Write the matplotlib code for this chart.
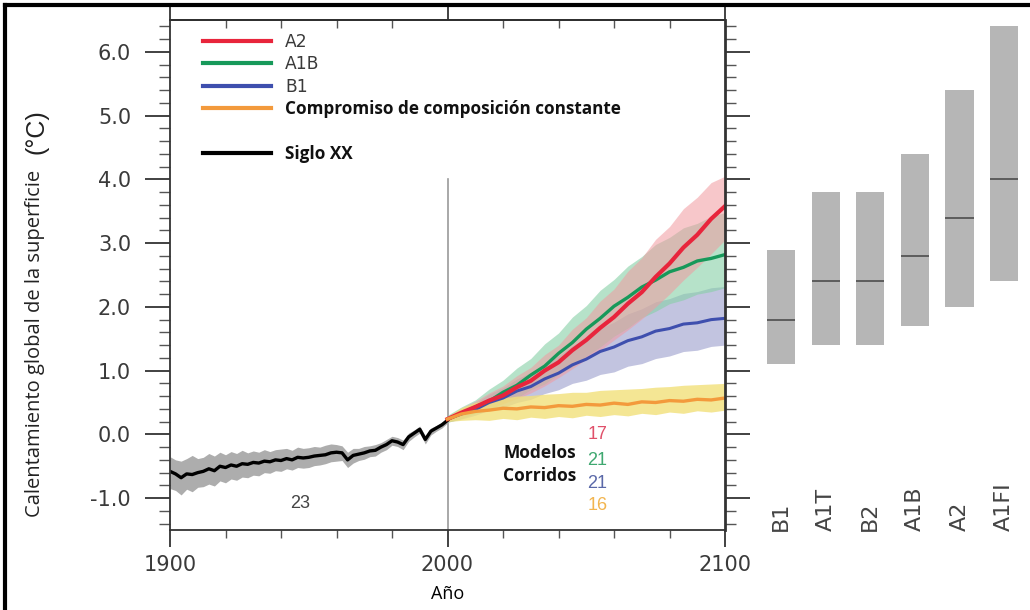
import matplotlib
matplotlib.use("Agg")
import matplotlib.pyplot as plt
from matplotlib.lines import Line2D
from matplotlib.ticker import MultipleLocator

# --- data ---
hist_years = list(range(1900, 2001, 2))
hist_mean = [-0.58, -0.62, -0.68, -0.62, -0.63, -0.60, -0.58, -0.54, -0.57, -0.50,
             -0.52, -0.48, -0.50, -0.46, -0.47, -0.44, -0.45, -0.42, -0.43, -0.40,
             -0.41, -0.38, -0.40, -0.36, -0.37, -0.36, -0.34, -0.33, -0.32, -0.29,
             -0.28, -0.29, -0.40, -0.33, -0.31, -0.29, -0.26, -0.25, -0.20, -0.16,
             -0.10, -0.12, -0.16, -0.04, 0.02, 0.08, -0.08, 0.05, 0.10, 0.15, 0.22]
hist_hi = [-0.35, -0.40, -0.42, -0.38, -0.33, -0.38, -0.36, -0.30, -0.34, -0.28,
           -0.32, -0.27, -0.30, -0.25, -0.29, -0.26, -0.28, -0.24, -0.27, -0.24,
           -0.23, -0.22, -0.25, -0.20, -0.22, -0.21, -0.19, -0.20, -0.17, -0.15,
           -0.16, -0.18, -0.28, -0.22, -0.22, -0.19, -0.18, -0.16, -0.13, -0.08,
           -0.03, -0.05, -0.09, 0.02, 0.07, 0.13, -0.02, 0.10, 0.14, 0.19, 0.26]
hist_lo = [-0.85, -0.88, -0.95, -0.86, -0.90, -0.83, -0.82, -0.78, -0.81, -0.73,
           -0.76, -0.70, -0.72, -0.67, -0.68, -0.64, -0.65, -0.60, -0.61, -0.57,
           -0.58, -0.54, -0.56, -0.52, -0.53, -0.52, -0.49, -0.48, -0.46, -0.43,
           -0.42, -0.41, -0.52, -0.45, -0.41, -0.39, -0.35, -0.34, -0.28, -0.24,
           -0.17, -0.19, -0.24, -0.11, -0.04, 0.02, -0.15, -0.01, 0.05, 0.10, 0.18]

proj_years = list(range(2000, 2101, 5))
a2_mean = [0.24, 0.34, 0.43, 0.53, 0.61, 0.74, 0.84, 1.00, 1.13, 1.32, 1.48,
           1.67, 1.84, 2.05, 2.23, 2.47, 2.68, 2.93, 3.13, 3.38, 3.58]
a2_hi = [0.28, 0.41, 0.52, 0.65, 0.76, 0.92, 1.05, 1.25, 1.40, 1.65, 1.83,
         2.09, 2.28, 2.56, 2.77, 3.06, 3.26, 3.54, 3.72, 3.95, 4.05]
a2_lo = [0.20, 0.26, 0.35, 0.41, 0.48, 0.56, 0.65, 0.76, 0.89, 1.03, 1.18,
         1.32, 1.48, 1.64, 1.81, 2.00, 2.20, 2.42, 2.62, 2.83, 3.05]
a1b_mean = [0.24, 0.33, 0.43, 0.52, 0.66, 0.77, 0.93, 1.07, 1.27, 1.44, 1.65,
            1.82, 2.01, 2.15, 2.31, 2.42, 2.55, 2.62, 2.72, 2.76, 2.82]
a1b_hi = [0.30, 0.43, 0.54, 0.71, 0.85, 1.04, 1.19, 1.42, 1.59, 1.84, 2.02,
          2.26, 2.43, 2.64, 2.79, 2.98, 3.09, 3.24, 3.31, 3.42, 3.48]
a1b_lo = [0.19, 0.25, 0.33, 0.39, 0.49, 0.57, 0.70, 0.79, 0.94, 1.06, 1.23,
          1.37, 1.54, 1.67, 1.83, 1.93, 2.05, 2.11, 2.20, 2.24, 2.30]
b1_mean = [0.24, 0.32, 0.39, 0.50, 0.57, 0.68, 0.75, 0.87, 0.96, 1.09, 1.18,
           1.30, 1.37, 1.47, 1.53, 1.62, 1.66, 1.73, 1.75, 1.80, 1.82]
b1_hi = [0.29, 0.39, 0.49, 0.63, 0.73, 0.87, 0.97, 1.11, 1.23, 1.39, 1.51,
         1.66, 1.76, 1.89, 1.97, 2.08, 2.13, 2.21, 2.24, 2.30, 2.32]
b1_lo = [0.19, 0.24, 0.30, 0.38, 0.42, 0.50, 0.55, 0.64, 0.70, 0.80, 0.85,
         0.94, 0.98, 1.07, 1.11, 1.19, 1.23, 1.30, 1.32, 1.38, 1.40]
const_mean = [0.24, 0.32, 0.36, 0.38, 0.41, 0.40, 0.43, 0.42, 0.45, 0.44, 0.47,
              0.46, 0.49, 0.47, 0.51, 0.50, 0.53, 0.52, 0.55, 0.54, 0.57]
const_hi = [0.28, 0.42, 0.50, 0.55, 0.57, 0.60, 0.61, 0.63, 0.64, 0.66, 0.66,
            0.69, 0.70, 0.71, 0.72, 0.74, 0.75, 0.77, 0.78, 0.79, 0.80]
const_lo = [0.20, 0.22, 0.23, 0.22, 0.25, 0.23, 0.27, 0.25, 0.28, 0.26, 0.30,
            0.28, 0.31, 0.29, 0.33, 0.31, 0.35, 0.33, 0.37, 0.35, 0.38]

scenarios = ["B1", "A1T", "B2", "A1B", "A2", "A1FI"]
best_est = [1.8, 2.4, 2.4, 2.8, 3.4, 4.0]
range_lo = [1.1, 1.4, 1.4, 1.7, 2.0, 2.4]
range_hi = [2.9, 3.8, 3.8, 4.4, 5.4, 6.4]

model_counts = ["17", "21", "21", "16"]
count_colors = ["#e0506a", "#3fa870", "#5a68a8", "#f2b54f"]

RED, GREEN, BLUE, ORANGE = "#e8253c", "#17995a", "#3e4fae", "#f39a3c"
TICK = "#3a3a3a"

fig = plt.figure(figsize=(10.3, 6.1), dpi=100)
ax = fig.add_axes([170 / 1030, 80 / 610, 555 / 1030, 510 / 610])
ax2 = fig.add_axes([725 / 1030, 80 / 610, 305 / 1030, 510 / 610])

# uncertainty bands
ax.fill_between(hist_years, hist_lo, hist_hi, color="#a4a4a4", lw=0, alpha=0.9)
ax.fill_between(proj_years, b1_lo, b1_hi, color="#aeb0d6", lw=0, alpha=0.75)
ax.fill_between(proj_years, a1b_lo, a1b_hi, color="#86d0a6", lw=0, alpha=0.6)
ax.fill_between(proj_years, a2_lo, a2_hi, color="#f29aa0", lw=0, alpha=0.55)
ax.fill_between(proj_years, const_lo, const_hi, color="#f2e07a", lw=0, alpha=0.8)

ax.plot(hist_years, hist_mean, color="black", lw=2.4)
ax.plot(proj_years, b1_mean, color=BLUE, lw=2.2)
ax.plot(proj_years, a1b_mean, color=GREEN, lw=2.4)
ax.plot(proj_years, a2_mean, color=RED, lw=3)
ax.plot(proj_years, const_mean, color=ORANGE, lw=2.4)

ax.axvline(2000, ymin=0, ymax=(4.0 + 1.5) / 8.0, color="#9a9a9a", lw=1.2, zorder=0)

ax.set_xlim(1900, 2100)
ax.set_ylim(-1.5, 6.5)
ax.set_xticks([1900, 2000, 2100])
ax.set_xticklabels(["1900", "2000", "2100"])
ax.xaxis.set_minor_locator(MultipleLocator(20))
ax.yaxis.set_minor_locator(MultipleLocator(0.2))
ax.set_yticks([-1, 0, 1, 2, 3, 4, 5, 6])
ax.set_yticklabels(["-1.0", "0.0", "1.0", "2.0", "3.0", "4.0", "5.0", "6.0"])

ax.tick_params(axis="y", which="major", direction="out", length=18, width=1.3,
               left=True, right=True, color="#333", labelsize=15,
               labelcolor=TICK, pad=10)
ax.tick_params(axis="y", which="minor", direction="out", length=8, width=1,
               left=True, right=True, color="#555")
ax.tick_params(axis="x", which="major", direction="out", length=12, width=1.3,
               color="#333", labelsize=15, labelcolor=TICK, pad=6)
ax.tick_params(axis="x", which="minor", direction="out", length=6, width=1,
               color="#555")

top = ax.secondary_xaxis("top")
top.set_xticks([1900, 2000, 2100])
top.xaxis.set_minor_locator(MultipleLocator(20))
top.tick_params(which="major", direction="out", length=10, width=1.3,
                labeltop=False, color="#333")
top.tick_params(which="minor", direction="in", length=6, width=1, color="#555")
top.spines["top"].set_linewidth(1.3)

for s in ax.spines.values():
    s.set_color("#333")
    s.set_linewidth(1.3)
ax.spines["right"].set_linewidth(2)

ax.set_xlabel("Año", family="Open Sans", fontsize=13, labelpad=7)

fig.text(35 / 1030, 1 - 343 / 610, "Calentamiento global de la superficie",
         rotation=90, ha="center", va="center", family="Open Sans",
         fontsize=14.5, color="#222")
fig.text(37 / 1030, 1 - 132 / 610, "(°C)", rotation=90, ha="center",
         va="center", family="Liberation Sans", fontsize=18, color="#222")

# legend
handles = [Line2D([], [], color=RED, lw=3),
           Line2D([], [], color=GREEN, lw=3),
           Line2D([], [], color=BLUE, lw=3),
           Line2D([], [], color=ORANGE, lw=3),
           Line2D([], [], color="none"),
           Line2D([], [], color="black", lw=3)]
labels = ["A2", "A1B", "B1", "Compromiso de composición constante", "", "Siglo XX"]
leg = ax.legend(handles, labels, loc="upper left",
                bbox_to_anchor=(33 / 555, 1 - 13 / 510), frameon=False,
                borderpad=0, borderaxespad=0, handlelength=4.0,
                handletextpad=0.8, labelspacing=0.26, fontsize=12.3)
for i, t in enumerate(leg.get_texts()):
    if i < 3:
        t.set_family("DejaVu Sans")
        t.set_color("#3a3a3a")
    else:
        t.set_family("Open Sans")
        t.set_fontweight("bold")
        t.set_color("#111")

ax.text(2046.5, -0.30, "Modelos", ha="right", va="center", family="Open Sans",
        fontweight="bold", fontsize=12.5, color="#111")
ax.text(2046.5, -0.66, "Corridos", ha="right", va="center", family="Open Sans",
        fontweight="bold", fontsize=12.5, color="#111")
for y, s, c in zip([0.0, -0.41, -0.77, -1.12], model_counts, count_colors):
    ax.text(2054, y, s, ha="center", va="center", fontsize=13, color=c,
            family="Liberation Sans")
ax.text(1946.8, -1.08, "23", ha="center", va="center", fontsize=13,
        color="#444", family="Liberation Sans")

# likely ranges at 2090-2099
xpos = list(range(len(scenarios)))
heights = [h - l for h, l in zip(range_hi, range_lo)]
w = 0.63
ax2.bar(xpos, heights, bottom=range_lo, width=w, color="#b6b6b6", lw=0)
ax2.hlines(best_est, [x - w / 2 for x in xpos], [x + w / 2 for x in xpos],
           color="#555", lw=1.3)
ax2.set_xlim(-1.256, 5.58)
ax2.set_ylim(-1.5, 6.5)
ax2.axis("off")
for x, s in zip(xpos, scenarios):
    ax2.text(x, -1.52, s, rotation=90, ha="center", va="bottom", fontsize=16,
             color="#444")

# outer frame (top and left edges visible in the reference)
fig.add_artist(Line2D([5 / 1030, 1.0], [1 - 5 / 610, 1 - 5 / 610],
                      color="black", lw=3, transform=fig.transFigure))
fig.add_artist(Line2D([5 / 1030, 5 / 1030], [0, 1 - 5 / 610],
                      color="black", lw=3, transform=fig.transFigure))

fig.savefig("out.png", dpi=100)
